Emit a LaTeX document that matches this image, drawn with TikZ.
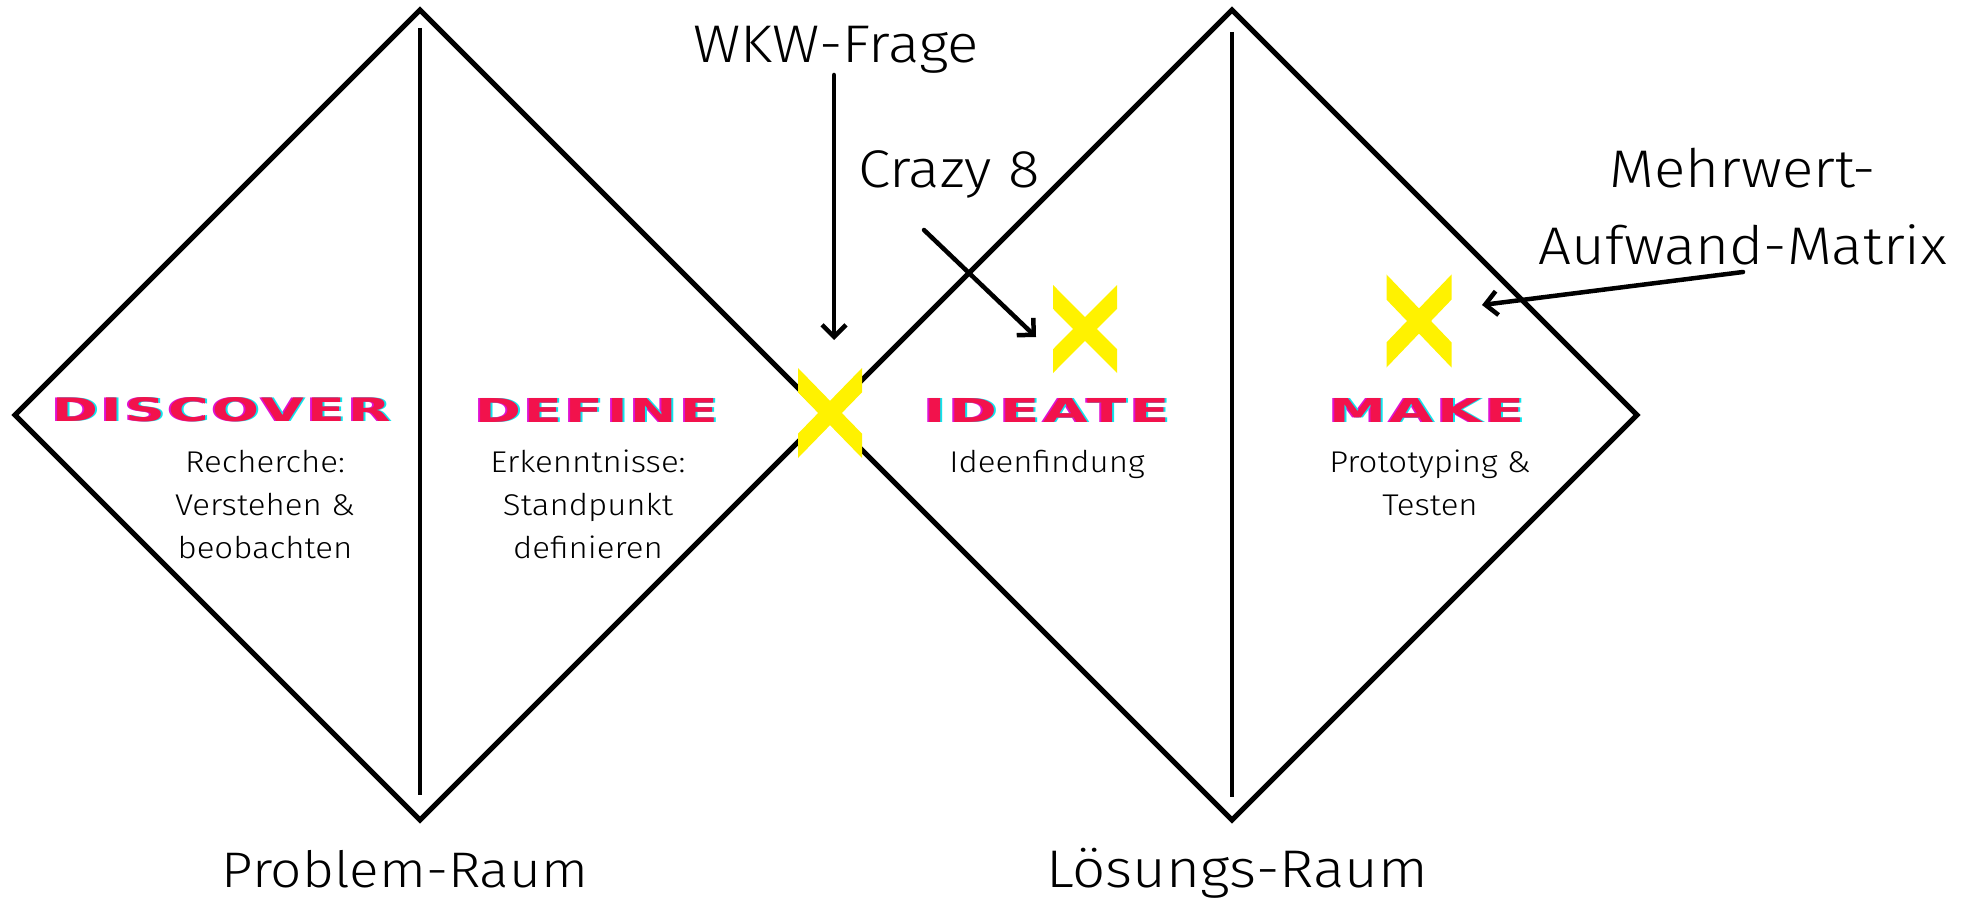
\documentclass[tikz,border=0pt]{standalone}
\usepackage{fontspec}
\usepackage{graphicx}
\setmainfont{Fira Sans Light}[FakeStretch=1.1]
\newfontfamily\headfont{DejaVu Sans}[LetterSpace=6]
\usetikzlibrary{arrows.meta}
\definecolor{xyellow}{HTML}{FFF200}
\definecolor{hred}{HTML}{F2124C}
\definecolor{hcyan}{HTML}{10E4EC}
\definecolor{hmag}{HTML}{E010D0}
\newcommand\yellowx[4]{%
  \fill[xyellow] ({#1-#3/2},{#2-#4/2}) -- ++(0,{0.27*#4}) -- ({#1+#3/2},{#2+#4/2}) -- ++(0,{-0.27*#4}) -- cycle;
  \fill[xyellow] ({#1+#3/2},{#2-#4/2}) -- ++(0,{0.27*#4}) -- ({#1-#3/2},{#2+#4/2}) -- ++(0,{-0.27*#4}) -- cycle;
}
\newcommand\glitch[2]{\def\gl{\resizebox{#1pt}{24pt}{\headfont\bfseries #2}}\rlap{\kern-2pt\textcolor{hmag}{\gl}}\rlap{\kern2pt\textcolor{hcyan}{\gl}}\textcolor{hred}{\gl}}
\tikzset{
  frame/.style={line width=5pt, line join=miter},
  divider/.style={line width=3.5pt},
  pointer/.style={line width=4.5pt, line cap=round, -{Straight Barb[length=12pt,width=24pt]}},
  biglabel/.style={font=\fontsize{53}{77}\selectfont, inner sep=0},
  body/.style={font=\fontsize{30}{43}\selectfont, inner sep=0, align=center},
  head/.style={inner sep=0, anchor=center}
}
\begin{document}
\begin{tikzpicture}[x=1pt,y=-1pt]
\useasboundingbox (0,0) rectangle (1972,901);
% diamonds
\draw[frame] (15,415) -- (420,10) -- (825,415) -- (420,820) -- cycle;
\draw[frame] (827,415) -- (1232,10) -- (1637,415) -- (1232,820) -- cycle;
\draw[divider] (420,28) -- (420,795);
\draw[divider] (1232,32) -- (1232,797);
% yellow crosses
\yellowx{830}{413}{64}{90}
\yellowx{1085}{329}{64}{88}
\yellowx{1419}{321}{65}{93}
% headings
\node[head] (hdiscover) at (222,410) {\glitch{339}{DISCOVER}};
\node[head] (hdefine) at (597,410) {\glitch{243}{DEFINE}};
\node[head] (hideate) at (1047,410) {\glitch{245}{IDEATE}};
\node[head] (hmake) at (1427,410) {\glitch{195}{MAKE}};
% body texts (base anchor = baseline of last line)
\node[body, anchor=base] (tdiscover) at (265,558) {Recherche:\\Verstehen \&\\beobachten};
\node[body, anchor=base] (tdefine) at (588,558) {Erkenntnisse:\\Standpunkt\\definieren};
\node[body, anchor=base] (tideate) at (1047,472) {Ideenfindung};
\node[body, anchor=base] (tmake) at (1430,515) {Prototyping \&\\Testen};
% labels
\node[biglabel, anchor=base] (wkw) at (836,63) {WKW-Frage};
\node[biglabel, anchor=base] (crazy) at (949,188) {Crazy 8};
\node[biglabel, anchor=base, align=center] (matrix) at (1743,265) {Mehrwert-\\Aufwand-Matrix};
\node[biglabel, anchor=base, font=\fontsize{50}{77}\selectfont] (problem) at (405,887) {Problem-Raum};
\node[biglabel, anchor=base] (loesung) at (1237,887) {Lösungs-Raum};
% arrows
\coordinate (wkwS) at (834,75);
\coordinate (wkwE) at (834,340);
\coordinate (crazyS) at (924,230);
\coordinate (crazyE) at (1036,337);
\coordinate (matS) at (1743,272);
\coordinate (matE) at (1482,305);
\draw[pointer] (wkwS) -- (wkwE);
\draw[pointer] (crazyS) -- (crazyE);
\draw[pointer] (matS) -- (matE);
\end{tikzpicture}
\end{document}
